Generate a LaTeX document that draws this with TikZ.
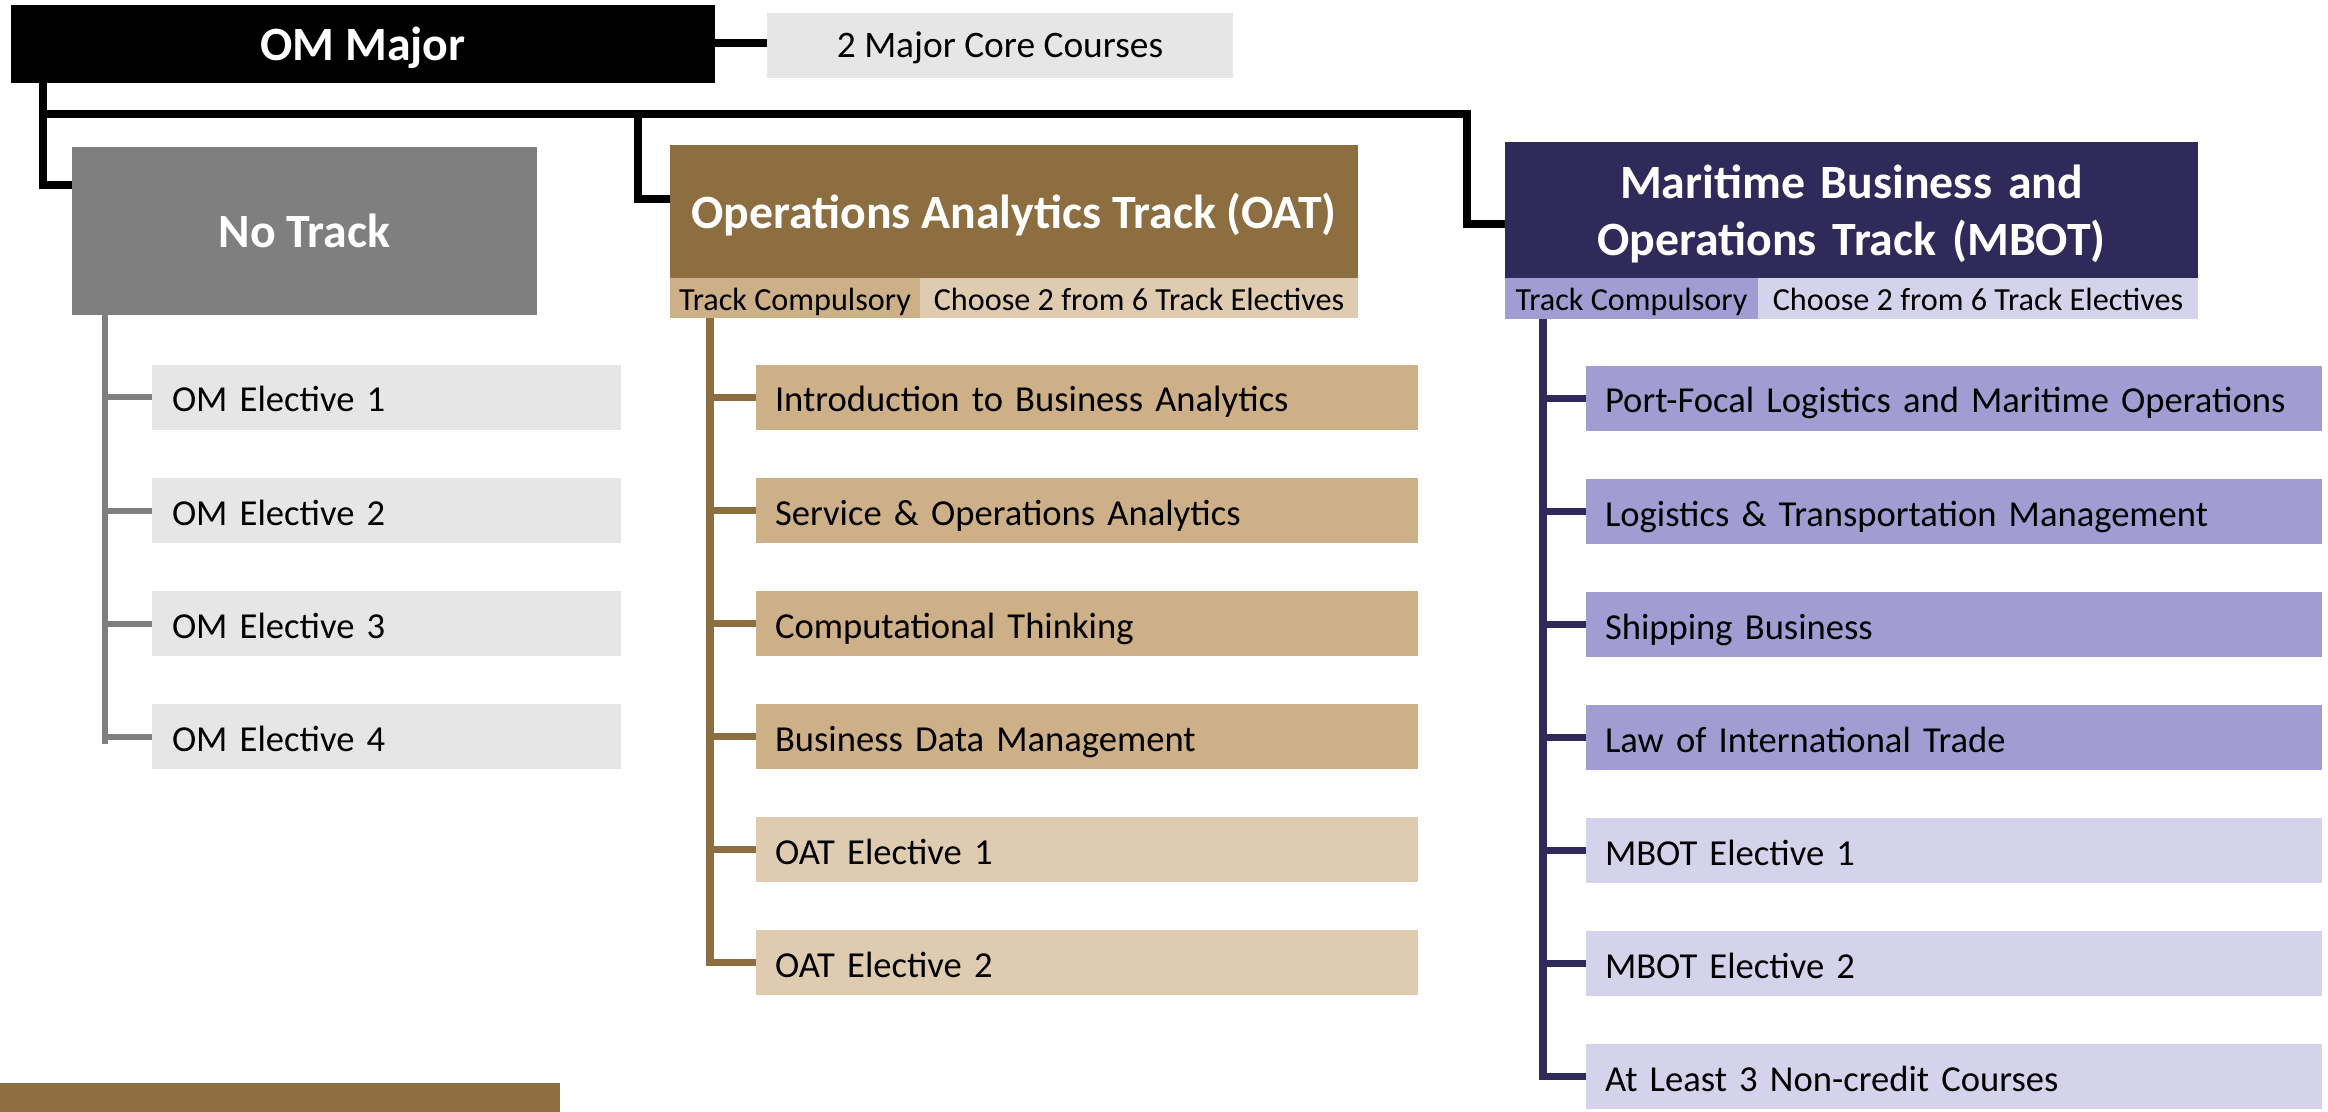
\documentclass[tikz,border=0pt]{standalone}
\usepackage{fontspec}
\setmainfont{Carlito}
\usetikzlibrary{calc}
\definecolor{omgray}{RGB}{127,127,127}
\definecolor{lgray}{RGB}{231,230,230}
\definecolor{oatbrown}{RGB}{140,110,64}
\definecolor{oattan}{RGB}{205,175,136}
\definecolor{oatlight}{RGB}{223,203,176}
\definecolor{mbotnavy}{RGB}{47,42,90}
\definecolor{mbotlav}{RGB}{161,157,210}
\definecolor{mbotlight}{RGB}{213,211,236}
\begin{document}
\begin{tikzpicture}[x=0.5pt,y=-0.5pt,
  box/.style={anchor=north west, inner sep=0pt, outer sep=0pt, draw=none, align=center},
  head/.style={box, text=white, font=\fontsize{23.9}{28.5}\selectfont\bfseries, text height=16.9pt, text depth=0pt},
  subt/.style={box, font=\fontsize{16.1}{18}\selectfont, text height=12.2pt, text depth=0pt, minimum height=20pt},
  item/.style={box, inner xsep=9.5pt, minimum height=32.5pt, align=left, font=\fontsize{18.3}{21}\selectfont, text height=14.5pt, text depth=0pt},
  mainline/.style={line width=3.6pt, black},
  grayline/.style={line width=3pt, omgray},
  brownline/.style={line width=3.6pt, oatbrown},
  navyline/.style={line width=3.8pt, mbotnavy}
]
\useasboundingbox (0,0) rectangle (2328,1112);

% top level
\node[head, fill=black, minimum width=352pt, minimum height=39pt] (om) at (11,5) {OM Major};
\node[box, fill=lgray, minimum width=233pt, minimum height=32.5pt, font=\fontsize{18.7}{21}\selectfont, text height=12pt, text depth=0pt] (core) at (767,13) {2 Major Core Courses};
\draw[mainline] (om.east |- 0,43) -- (core.west |- 0,43);

% track headings
\node[head, fill=omgray, minimum width=232.5pt, minimum height=84pt] (nt) at (72,147) {No Track};
\node[head, fill=oatbrown, minimum width=344pt, minimum height=66.5pt] (oat) at (670,145) {Operations Analytics Track (OAT)};
\node[subt, fill=oattan, minimum width=125pt] (oatc) at (670,278) {Track Compulsory};
\node[subt, fill=oatlight, minimum width=219pt] (oate) at (920,278) {Choose 2 from 6 Track Electives};
\node[head, fill=mbotnavy, text width=346.5pt, minimum height=68pt, text height=16pt, text depth=27.5pt] (mbot) at (1505,142) {Maritime Business and\\Operations Track (MBOT)};
\node[subt, fill=mbotlav, minimum width=126.5pt, minimum height=20.5pt] (mbotc) at (1505,278) {Track Compulsory};
\node[subt, fill=mbotlight, minimum width=220pt, minimum height=20.5pt] (mbote) at (1758,278) {Choose 2 from 6 Track Electives};

% main tree
\coordinate (omdown) at (43,83);
\coordinate (ntin) at (72,185);
\coordinate (bus) at (43,114);
\coordinate (busoat) at (638,114);
\coordinate (oatin) at (670,199);
\coordinate (mbend) at (1467,224);
\coordinate (mbotin) at (1505,224);
\draw[mainline] (omdown) |- (ntin);
\draw[mainline] (bus) -| (mbend) -- (mbotin);
\draw[mainline] (busoat) |- (oatin);

% No Track items
\coordinate (nts) at (105,315);
\coordinate (nte) at (105,744);
\draw[grayline] (nts) -- (nte);
\foreach \t [count=\i] in {OM Elective 1,OM Elective 2,OM Elective 3,OM Elective 4}{
  \node[item, fill=lgray, text width=214.5pt, inner xsep=10pt] (nt\i) at (152,{365+(\i-1)*113}) {\t};
  \draw[grayline] (nt\i.west -| nts) -- (nt\i.west);
}

% OAT items
\coordinate (oats) at (710,318);
\coordinate (oatend) at (710,966);
\draw[brownline] (oats) -- (oatend);
\foreach \t [count=\i] in {Introduction to Business Analytics,Service \& Operations Analytics,Computational Thinking,Business Data Management}{
  \node[item, fill=oattan, text width=312pt] (oat\i) at (756,{365+(\i-1)*113}) {\t};
  \draw[brownline] (oat\i.west -| oats) -- (oat\i.west);
}
\foreach \t [count=\i from 5] in {OAT Elective 1,OAT Elective 2}{
  \node[item, fill=oatlight, text width=312pt] (oat\i) at (756,{365+(\i-1)*113}) {\t};
  \draw[brownline] (oat\i.west -| oats) -- (oat\i.west);
}

% MBOT items
\coordinate (mbs) at (1543,319);
\coordinate (mbend2) at (1543,1080);
\draw[navyline] (mbs) -- (mbend2);
\foreach \t [count=\i] in {Port-Focal Logistics and Maritime Operations,Logistics \& Transportation Management,Shipping Business,Law of International Trade}{
  \node[item, fill=mbotlav, text width=349pt] (mb\i) at (1586,{366+(\i-1)*113}) {\t};
  \draw[navyline] (mb\i.west -| mbs) -- (mb\i.west);
}
\foreach \t [count=\i from 5] in {MBOT Elective 1,MBOT Elective 2,At Least 3 Non-credit Courses}{
  \node[item, fill=mbotlight, text width=349pt] (mb\i) at (1586,{366+(\i-1)*113}) {\t};
  \draw[navyline] (mb\i.west -| mbs) -- (mb\i.west);
}

% bottom bar
\fill[oatbrown] (0,1083) rectangle (560,1112);
\end{tikzpicture}
\end{document}
